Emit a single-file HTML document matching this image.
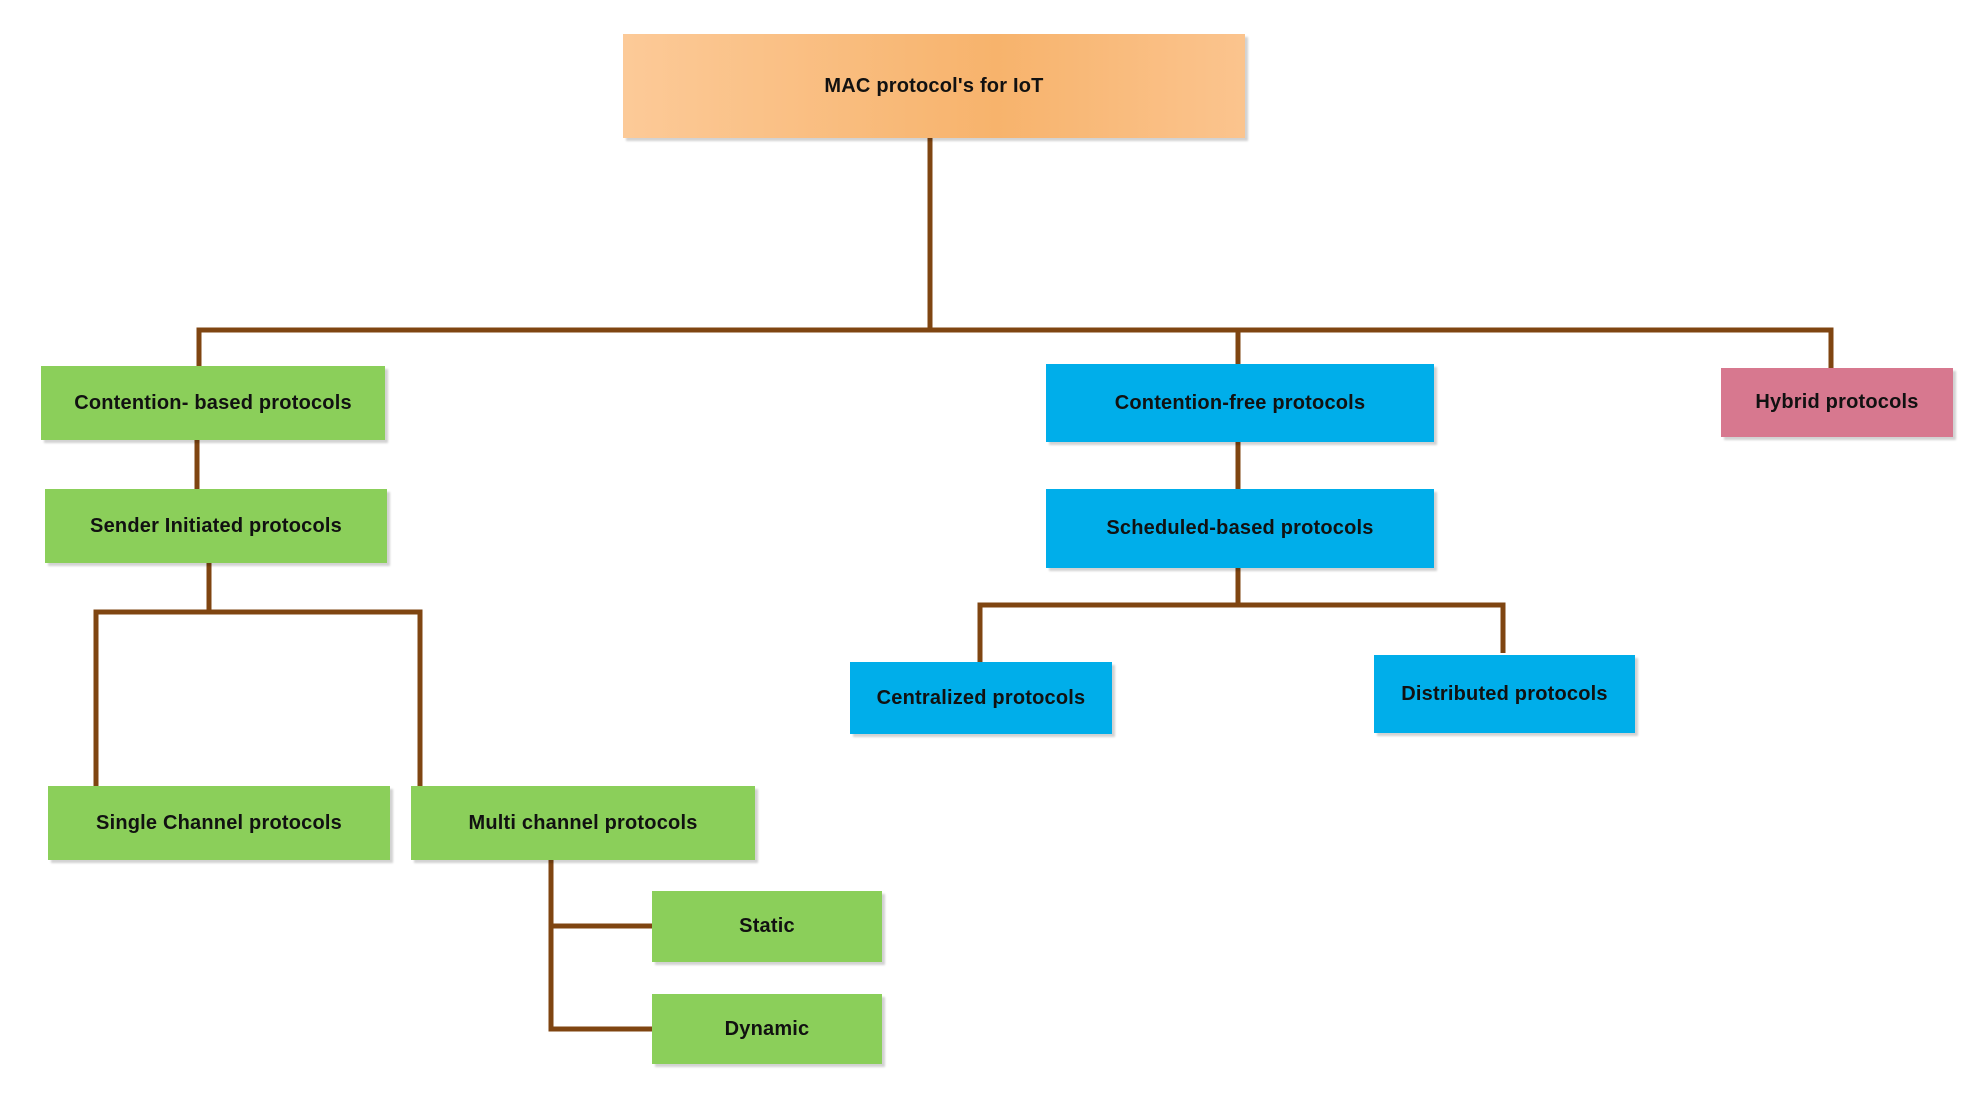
<!DOCTYPE html>
<html><head><meta charset="utf-8"><style>
html,body{margin:0;padding:0;background:#fff;width:1976px;height:1097px;overflow:hidden;position:relative}
.b{position:absolute;display:flex;align-items:center;justify-content:center;font-family:"Liberation Sans",Arial,sans-serif;font-weight:bold;font-size:20px;color:#111;box-shadow:3px 3px 2px rgba(0,0,0,0.18);white-space:nowrap;letter-spacing:0.2px}
.g{background:#8bcf5a}
.c{background:#00aeea}
.p{background:#d7788f}
.o{background:linear-gradient(90deg,#fcca98 0%,#f7b36c 60%,#fbc48e 100%)}
svg{position:absolute;left:0;top:0}
</style></head><body>
<svg width="1976" height="1097">
<g stroke="#7f4511" stroke-width="5" fill="none" stroke-linejoin="miter">
<line x1="930" y1="138" x2="930" y2="330"/>
<polyline points="199,367 199,330 1831,330 1831,368"/>
<line x1="1238" y1="330" x2="1238" y2="364"/>
<line x1="197" y1="440" x2="197" y2="489"/>
<line x1="209" y1="563" x2="209" y2="612"/>
<polyline points="96,786 96,612 420,612 420,786"/>
<polyline points="652,926 551,926"/>
<polyline points="551,860 551,1029 652,1029"/>
<line x1="1238" y1="442" x2="1238" y2="489"/>
<line x1="1238" y1="568" x2="1238" y2="605"/>
<polyline points="980,662 980,605 1503,605 1503,653"/>
</g>
</svg>
<div class="b o" style="left:623px;top:34px;width:622px;height:104px">MAC protocol's for IoT</div>
<div class="b g" style="left:41px;top:366px;width:344px;height:74px">Contention- based protocols</div>
<div class="b g" style="left:45px;top:489px;width:342px;height:74px">Sender Initiated protocols</div>
<div class="b g" style="left:48px;top:786px;width:342px;height:74px">Single Channel protocols</div>
<div class="b g" style="left:411px;top:786px;width:344px;height:74px">Multi channel protocols</div>
<div class="b g" style="left:652px;top:891px;width:230px;height:71px">Static</div>
<div class="b g" style="left:652px;top:994px;width:230px;height:70px">Dynamic</div>
<div class="b c" style="left:1046px;top:364px;width:388px;height:78px">Contention-free protocols</div>
<div class="b c" style="left:1046px;top:489px;width:388px;height:79px">Scheduled-based protocols</div>
<div class="b c" style="left:850px;top:662px;width:262px;height:72px">Centralized protocols</div>
<div class="b c" style="left:1374px;top:655px;width:261px;height:78px">Distributed protocols</div>
<div class="b p" style="left:1721px;top:368px;width:232px;height:69px">Hybrid protocols</div>
</body></html>
